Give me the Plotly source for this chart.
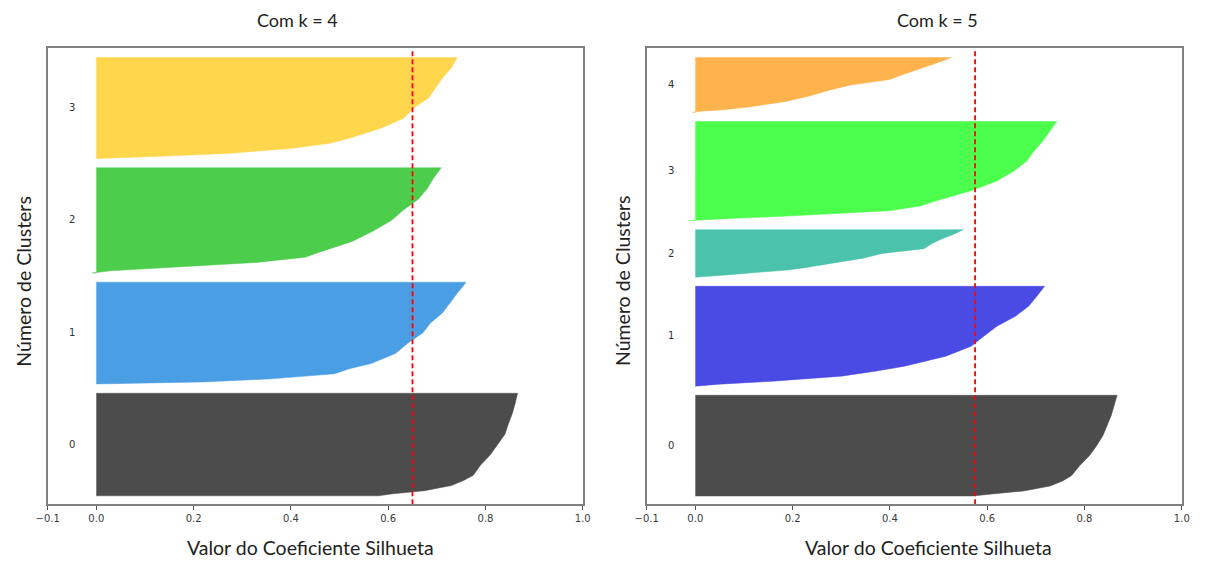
import plotly.graph_objects as go

# ---------------- data ----------------
# quantile positions (fraction of cluster, from lowest to highest silhouette)
quantiles = [0, 0.02, 0.05, 0.1, 0.15, 0.2, 0.3, 0.4, 0.5, 0.6, 0.7, 0.8, 0.9, 0.95, 1.0]

# k = 4
k4_sizes = [122, 121, 125, 120]
k4_c0 = [0.58, 0.61, 0.675, 0.73, 0.755, 0.775, 0.79, 0.81, 0.825, 0.84, 0.847, 0.855, 0.861, 0.864, 0.866]
k4_c1 = [0.0, 0.22, 0.36, 0.49, 0.52, 0.565, 0.615, 0.64, 0.671, 0.687, 0.712, 0.727, 0.743, 0.752, 0.760]
k4_c2 = [-0.008, 0.03, 0.15, 0.33, 0.43, 0.46, 0.526, 0.57, 0.607, 0.632, 0.662, 0.68, 0.693, 0.702, 0.709]
k4_c3 = [0.005, 0.12, 0.27, 0.40, 0.48, 0.52, 0.585, 0.632, 0.652, 0.683, 0.697, 0.712, 0.730, 0.736, 0.742]
k4_avg = 0.65

# k = 5
k5_sizes = [122, 121, 58, 120, 67]
k5_c0 = [0.57, 0.61, 0.675, 0.73, 0.755, 0.773, 0.79, 0.81, 0.825, 0.838, 0.847, 0.855, 0.861, 0.864, 0.867]
k5_c1 = [0.0, 0.05, 0.16, 0.30, 0.37, 0.43, 0.515, 0.567, 0.593, 0.62, 0.658, 0.685, 0.702, 0.71, 0.718]
k5_c2 = [0.0, 0.04, 0.07, 0.125, 0.19, 0.225, 0.29, 0.345, 0.385, 0.47, 0.485, 0.505, 0.53, 0.54, 0.551]
k5_c3 = [-0.013, 0.07, 0.21, 0.40, 0.465, 0.495, 0.567, 0.62, 0.655, 0.681, 0.696, 0.714, 0.729, 0.736, 0.743]
k5_c4 = [-0.005, 0.01, 0.06, 0.11, 0.147, 0.186, 0.235, 0.273, 0.32, 0.40, 0.43, 0.465, 0.496, 0.512, 0.526]
k5_avg = 0.575

cluster_labels_k4 = ["0", "1", "2", "3"]
cluster_labels_k5 = ["0", "1", "2", "3", "4"]
titles = ["Com k = 4", "Com k = 5"]
xlabel = "Valor do Coeficiente Silhueta"
ylabel = "Número de Clusters"
xtick_vals = [-0.1, 0.0, 0.2, 0.4, 0.6, 0.8, 1.0]
xtick_text = ["\u22120.1", "0.0", "0.2", "0.4", "0.6", "0.8", "1.0"]

k4_colors = ["#4c4c4c", "#4a9ee4", "#4ccd4c", "#ffd64c"]
k5_colors = ["#4c4c4c", "#4a4be4", "#4bc3ac", "#4cff4c", "#ffb34c"]

GAP = 10

fig = go.Figure()

W, H = 1205, 563
# horizontal calibration of the rendered picture
CAL_A, CAL_S = 11.0, 0.985

def px(x):
    return ((x - CAL_A) / CAL_S) / W

def py(y):
    return 1 - y / H

dom_left = [px(46.7), px(582.7)]
dom_right = [px(646.7), px(1182.7)]
dom_y = [py(504.3), py(48.3)]

def add_panel(profiles, sizes, colors, labels, avg, xa, ya):
    y_lower = GAP
    for prof, n, col, lab in zip(profiles, sizes, colors, labels):
        ys = [y_lower + q * (n - 1) for q in quantiles]
        xs = [0] + list(prof) + [0]
        yy = [y_lower] + ys + [y_lower + n - 1]
        fig.add_trace(go.Scatter(x=xs, y=yy, fill="toself", fillcolor=col,
                                 mode="lines", line=dict(width=0.5, color=col),
                                 xaxis=xa, yaxis=ya, showlegend=False, hoverinfo="skip"))
        fig.add_annotation(x=-0.05, y=y_lower + 0.5 * n, text=lab, showarrow=False,
                           xref=xa, yref=ya, xanchor="center", yanchor="middle",
                           font=dict(family="DejaVu Sans", size=10, color="#333333"))
        y_lower += n + GAP
    ymax = y_lower
    fig.add_trace(go.Scatter(x=[avg, avg], y=[0, ymax], mode="lines",
                             line=dict(color="#ff0000", width=1.8, dash="5px,3px"),
                             xaxis=xa, yaxis=ya, showlegend=False, hoverinfo="skip"))
    return ymax

ymax4 = add_panel([k4_c0, k4_c1, k4_c2, k4_c3], k4_sizes, k4_colors, cluster_labels_k4, k4_avg, "x", "y")
ymax5 = add_panel([k5_c0, k5_c1, k5_c2, k5_c3, k5_c4], k5_sizes, k5_colors, cluster_labels_k5, k5_avg, "x2", "y2")

axis_common = dict(showline=True, mirror=True, linecolor="#808080", linewidth=1.5,
                   showgrid=False, zeroline=False)
xcommon = dict(axis_common, range=[-0.1, 1.0], tickmode="array", tickvals=xtick_vals,
               ticktext=xtick_text, ticks="outside", ticklen=4, tickcolor="#555555", tickwidth=1,
               tickfont=dict(family="DejaVu Sans", size=10, color="#3a3a3a"))
ycommon = dict(axis_common, showticklabels=False, ticks="")

fig.update_layout(
    width=W, height=H, margin=dict(l=0, r=0, t=0, b=0),
    plot_bgcolor="white", paper_bgcolor="white",
    xaxis=dict(xcommon, domain=dom_left, anchor="y"),
    yaxis=dict(ycommon, domain=dom_y, range=[0, ymax4], anchor="x"),
    xaxis2=dict(xcommon, domain=dom_right, anchor="y2"),
    yaxis2=dict(ycommon, domain=dom_y, range=[0, ymax5], anchor="x2"),
)

def add_text(x, y, text, size, angle=0):
    fig.add_annotation(x=px(x), y=py(y), xref="paper", yref="paper", text=text,
                       showarrow=False, xanchor="center", yanchor="middle",
                       textangle=angle, font=dict(family="Lato", size=size, color="#222222"))

add_text(296.7, 20, titles[0], 18)
add_text(938, 20, titles[1], 18)
add_text(310, 547, xlabel, 19.5)
add_text(929, 547, xlabel, 19.5)
add_text(21.7, 281, ylabel, 19.5, -90)
add_text(622, 281, ylabel, 19.5, -90)

fig.write_html("out.html", config={"displayModeBar": False},
               post_script="document.body.style.margin='0';document.body.style.overflow='hidden';")
